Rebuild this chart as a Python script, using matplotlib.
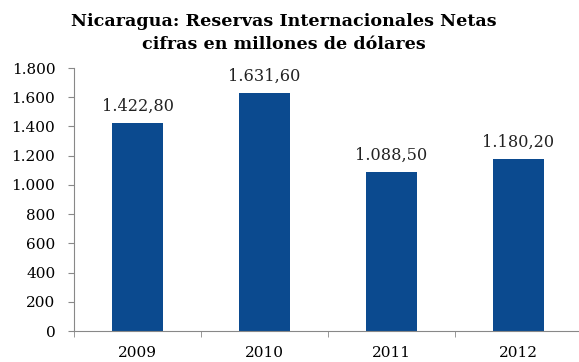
import matplotlib
matplotlib.use("Agg")
import matplotlib.pyplot as plt
from matplotlib.ticker import FuncFormatter

years = ["2009", "2010", "2011", "2012"]
reservas = [1422.80, 1631.60, 1088.50, 1180.20]
y_ticks = [0, 200, 400, 600, 800, 1000, 1200, 1400, 1600, 1800]

plt.rcParams['font.family'] = ['DejaVu Serif']


def miles(v, pos=None):
    # Spanish style thousands separator
    return f"{int(v):,}".replace(",", ".")


def etiqueta(v):
    s = f"{v:,.2f}"
    return s.replace(",", "X").replace(".", ",").replace("X", ".")


fig = plt.figure(figsize=(5.79, 3.62), dpi=100)
ax = fig.add_axes([0.128, 0.0856, 0.877, 0.7264])

x = range(len(years))
bars = ax.bar(x, reservas, width=0.4, color='#0b4a8f')

for xi, v in zip(x, reservas):
    ax.text(xi, v + 55, etiqueta(v), ha='center', va='bottom', fontsize=11.6, color='#222222')

ax.set_ylim(0, 1800)
ax.set_xlim(-0.5, 3.5)
ax.set_yticks(y_ticks)
ax.yaxis.set_major_formatter(FuncFormatter(miles))
ax.set_xticks(list(x))
ax.set_xticklabels(years)
ax.set_xticks([-0.5, 0.5, 1.5, 2.5, 3.5], minor=True)
ax.tick_params(axis='x', which='major', length=0, labelsize=11, pad=11)
ax.tick_params(axis='x', which='minor', length=4.5, color='#888888', direction='out')
ax.tick_params(axis='y', length=4.5, color='#888888', labelsize=11, direction='out', pad=9)

for s in ['top', 'right']:
    ax.spines[s].set_visible(False)
for s in ['left', 'bottom']:
    ax.spines[s].set_color('#888888')

fig.text(0.491, 0.965, "Nicaragua: Reservas Internacionales Netas\ncifras en millones de dólares",
         ha='center', va='top', fontsize=12.6, fontweight='bold', linespacing=1.5)

fig.savefig("out.png", dpi=100)
